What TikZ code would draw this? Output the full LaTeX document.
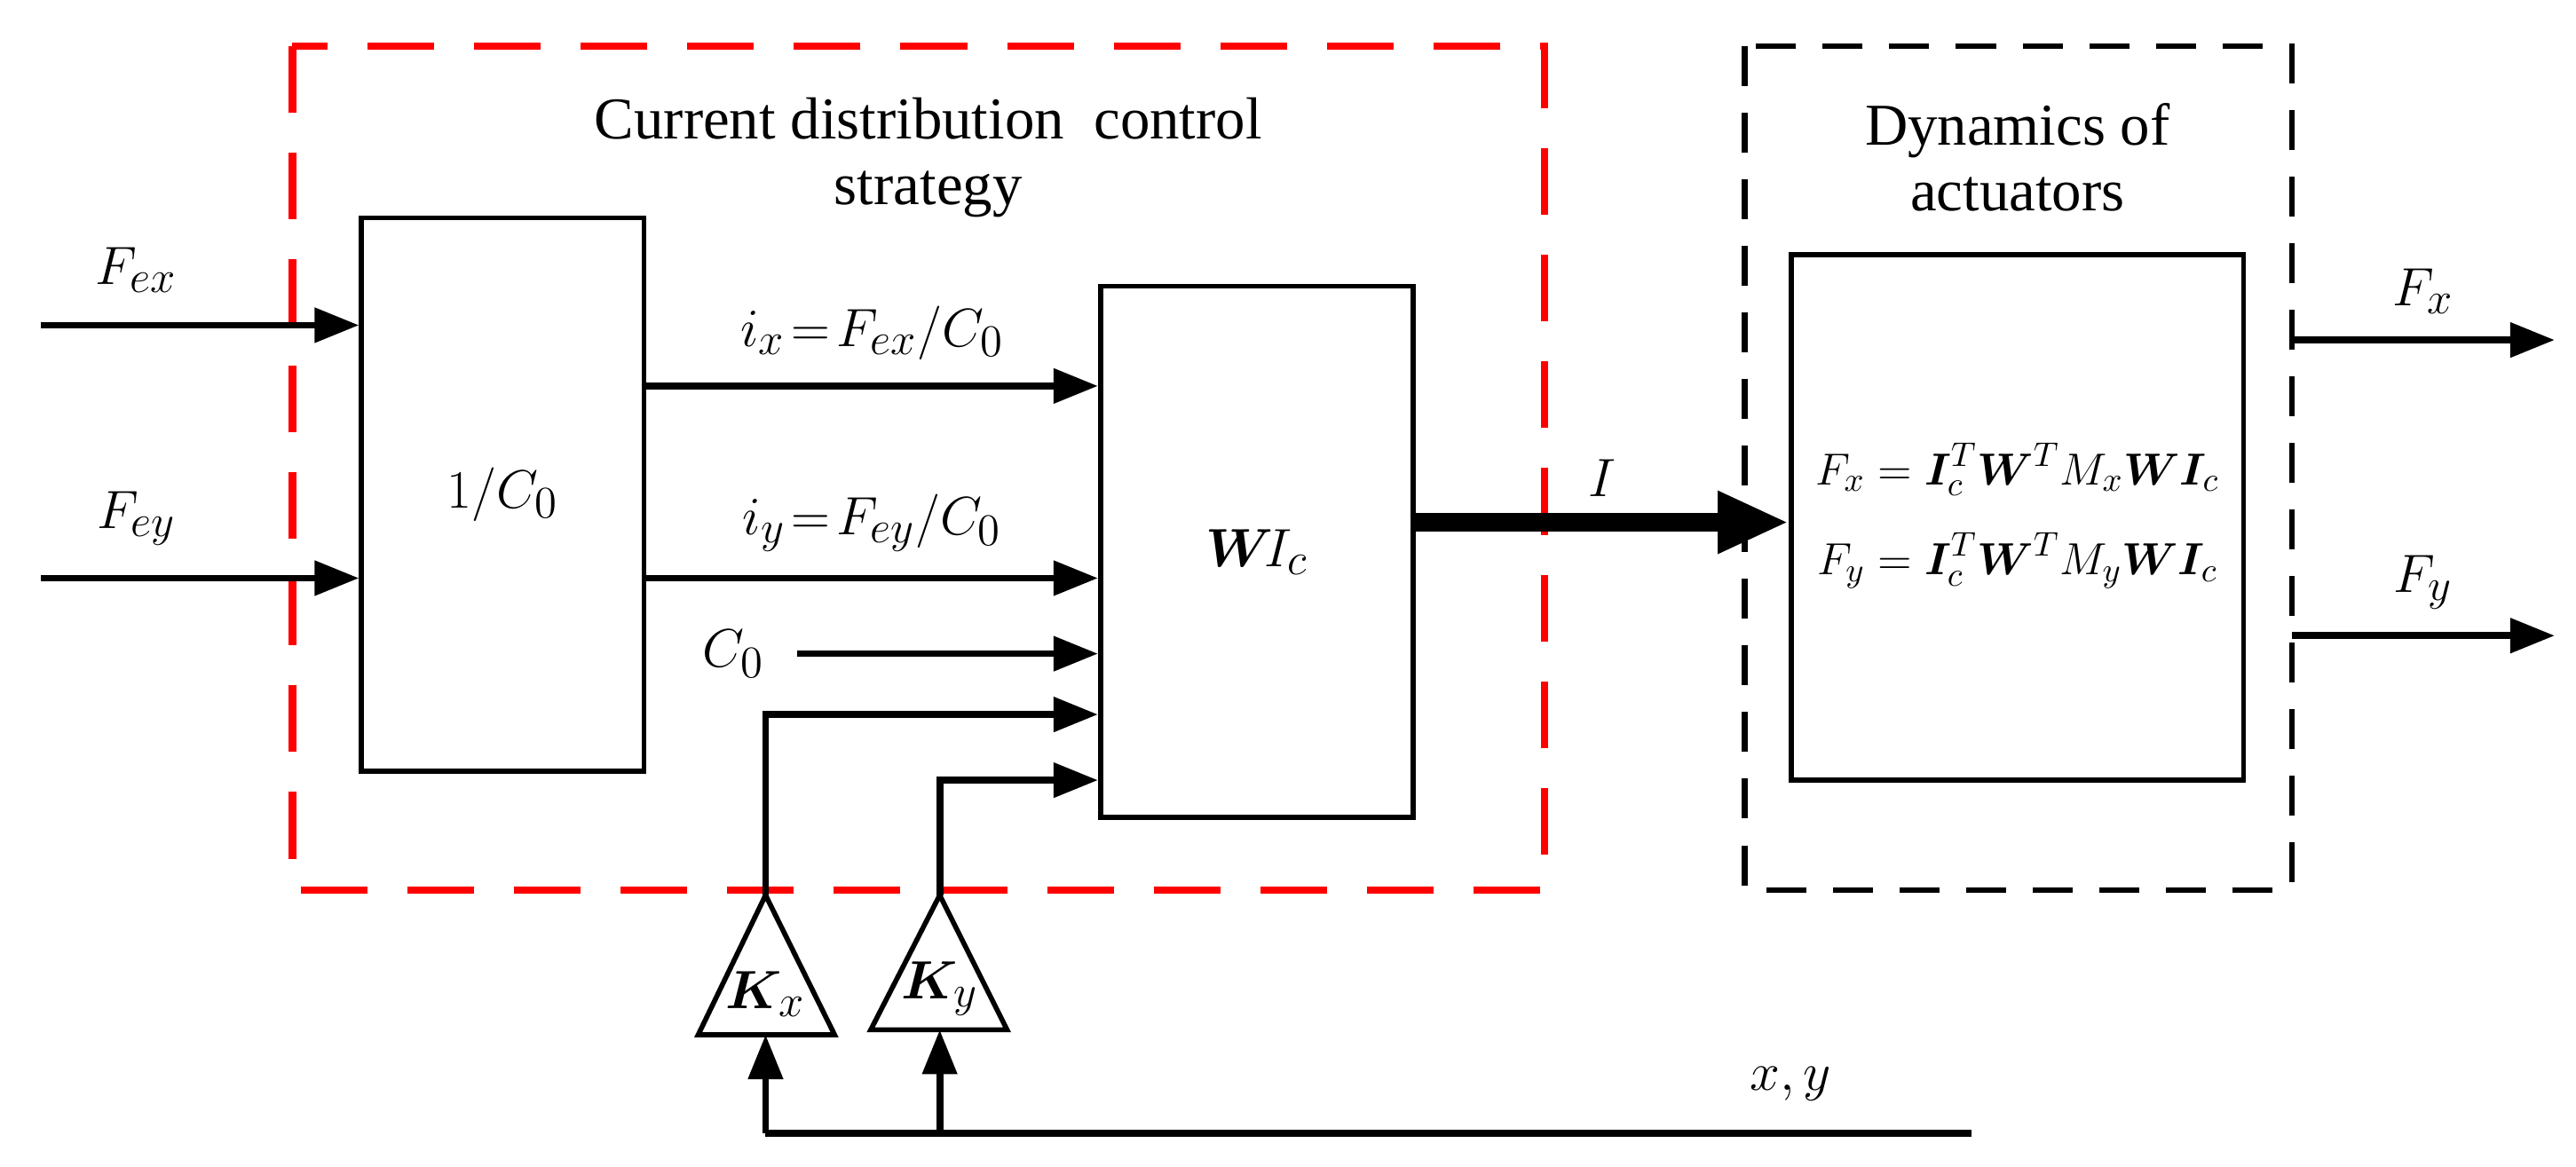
\documentclass[tikz,border=0pt]{standalone}
\usepackage{fontspec}
\usepackage{amsmath,bm}
\setmainfont{Liberation Serif}
\usetikzlibrary{positioning,arrows.meta,shapes.geometric}

\begin{document}
\begin{tikzpicture}[x=0.0185cm,y=-0.0185cm,
font=\fontsize{19}{23}\selectfont,
blocknode/.style={rectangle, draw=black, line width=1.6pt, inner sep=0pt},
gainnode/.style={inner sep=0pt},
signal/.style={line width=2.2pt, -{Triangle[length=0.5cm,width=0.38cm]}},
]
\useasboundingbox (0,0) rectangle (1568,710);
%Frames
\draw[red, line width=2.4pt, dash pattern=on 0.75cm off 0.45cm] (178,28) rectangle (940,542);
\draw[black, line width=1.8pt, dash pattern=on 0.45cm off 0.3cm] (1062,28) rectangle (1395,542);
\node[align=center] at (565,96) {Current distribution\ \ control\\[-2pt]strategy};
\node[align=center] at (1228,96) {Dynamics of\\[-2pt]actuators};

%Nodes
\node[blocknode, minimum width=3.18cm, minimum height=6.23cm] (inv) at (306,301) {$1/C_0$};
\node[blocknode, minimum width=3.52cm, minimum height=5.98cm] (W) at (765,336) {$\bm{W}\!I_c$};
\node[blocknode, minimum width=5.09cm, minimum height=5.92cm, font=\fontsize{15}{18}\selectfont] (act) at (1228,315)
  {$\begin{aligned}F_x&=\bm{I}_c^T\bm{W}^T M_x\bm{W}\bm{I}_c\\[6pt]F_y&=\bm{I}_c^T\bm{W}^T M_y\bm{W}\bm{I}_c\end{aligned}$};
\coordinate (Kxtop) at (466,545);
\coordinate (Kytop) at (572,545);
\draw[line width=1.6pt] (Kxtop) -- (508,630) -- (425,630) -- cycle;
\draw[line width=1.6pt] (Kytop) -- (613,627) -- (530,627) -- cycle;
\node[gainnode] (Kx) at (466,605) {$\bm{K}_x$};
\node[gainnode] (Ky) at (572,602) {$\bm{K}_y$};
\coordinate (Kxbot) at (466,630);
\coordinate (Kybot) at (572,627);

%Coordinates
\coordinate (fex) at (25,198);
\coordinate (fey) at (25,352);
\coordinate (c0) at (485,398);
\coordinate (fb) at (1200,690);
\coordinate (fxo) at (1555,207);
\coordinate (fyo) at (1555,387);

%Lines
\draw[signal] (fex) -- (fex -| inv.west) node[pos=0.3, above=6pt] {$F_{ex}$};
\draw[signal] (fey) -- (fey -| inv.west) node[pos=0.3, above=6pt] {$F_{ey}$};
\draw[signal] (inv.east |- 0,235) -- (W.west |- 0,235) node[midway, above=4pt] {$i_x\!=\!F_{ex}/C_0$};
\draw[signal] (inv.east |- 0,352) -- (W.west |- 0,352) node[midway, above=4pt] {$i_y\!=\!F_{ey}/C_0$};
\draw[signal] (c0) -- (c0 -| W.west) node[at start, left=6pt] {$C_0$};
\draw[signal] (Kxtop) |- (W.west |- 0,435);
\draw[signal] (Kytop) |- (W.west |- 0,475);
\draw[line width=6pt, -{Triangle[length=0.8cm,width=0.65cm]}] (W.east |- 0,318) -- (act.west |- 0,318) node[midway, above=2pt] {$I$};
\draw[line width=2.2pt] (fb) -- (Kxbot |- fb) node[pos=0.15, above=6pt] {$x,y$};
\draw[signal] (Kxbot |- fb) -- (Kxbot);
\draw[signal] (Kybot |- fb) -- (Kybot);
\draw[signal] (1395,207) -- (fxo) node[midway, above=4pt] {$F_x$};
\draw[signal] (1395,387) -- (fyo) node[midway, above=4pt] {$F_y$};
\end{tikzpicture}
\end{document}
